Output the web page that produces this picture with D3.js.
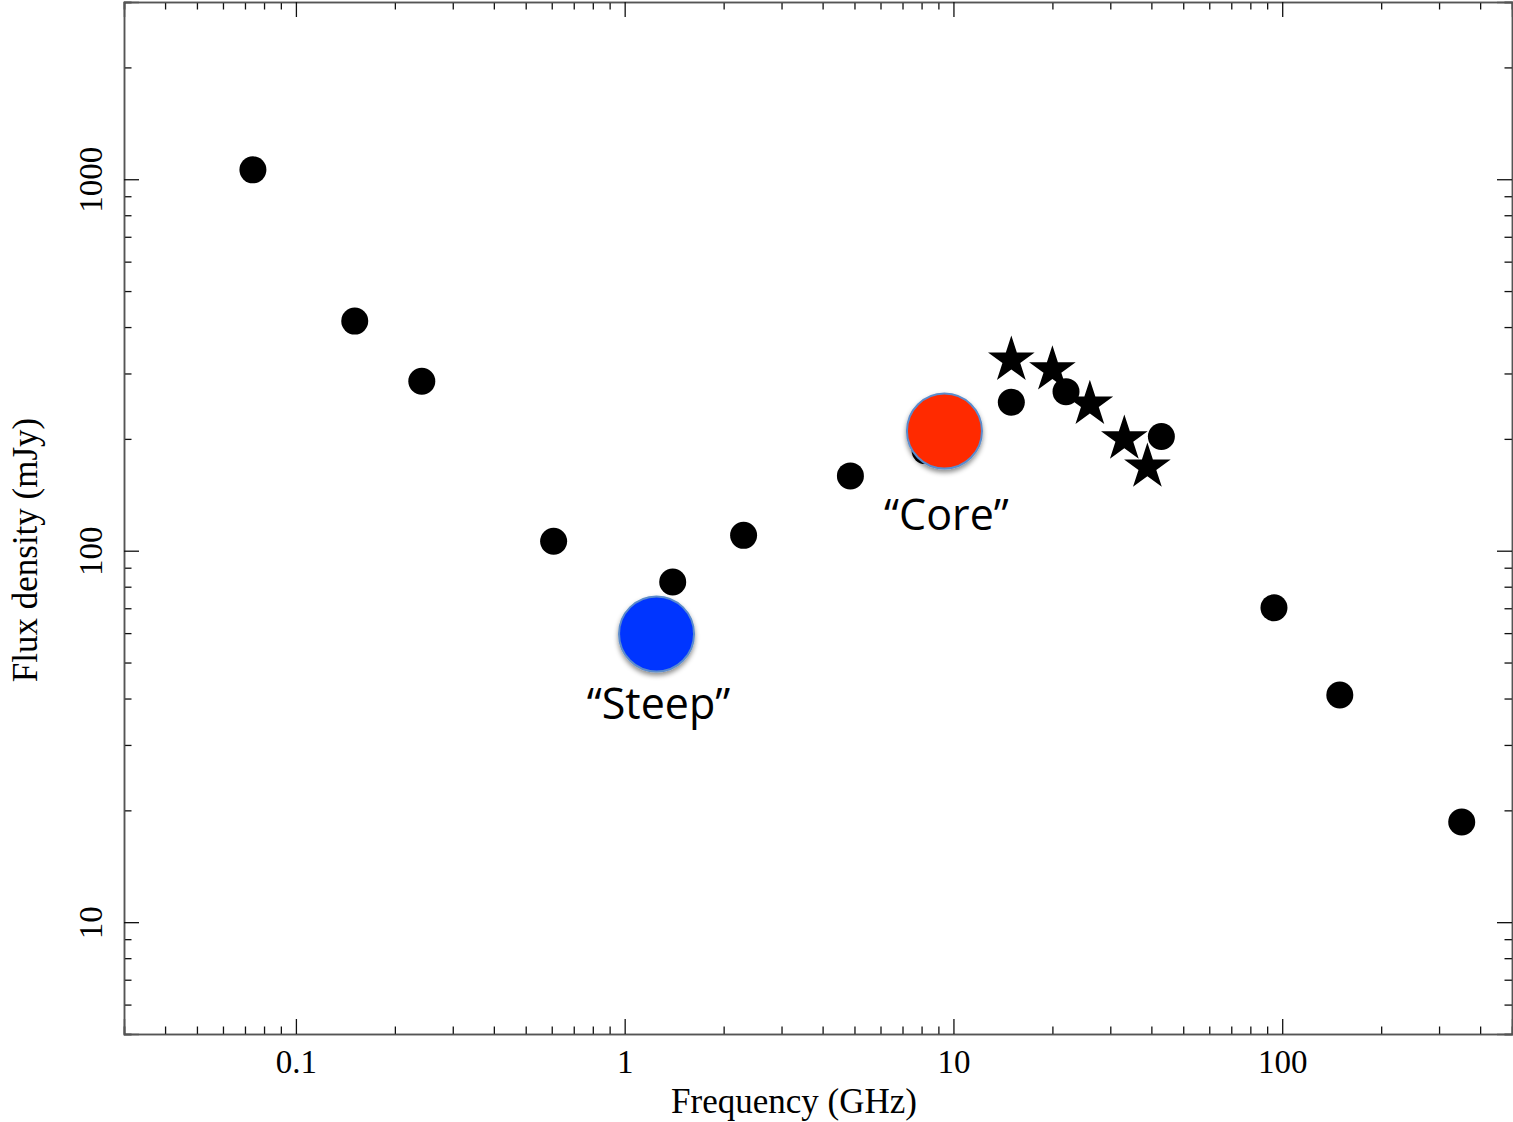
<!DOCTYPE html>
<html>
<head>
<meta charset="utf-8">
<script src="https://cdn.jsdelivr.net/npm/d3@7"></script>
<style>
  body { margin: 0; background: #fff; }
  svg { display: block; }
</style>
</head>
<body>
<div class="svg-container"></div>
<script>
// measured flux densities (black dots)
const freqGHz = [0.074, 0.151, 0.2415, 0.608, 1.40, 2.30, 4.86, 8.2, 15.0, 22.0, 42.9, 94.4, 149.7, 351.6];
const fluxMJy = [1060, 415, 286, 106, 82.4, 110, 159, 186, 251, 268, 203, 70.2, 40.9, 18.6];

// star points
const starFreq = [15.0, 20.0, 26.0, 33.1, 38.9];
const starFlux = [326, 307, 248, 200, 168];

// the two highlighted components
const compNames = ["\u201CCore\u201D", "\u201CSteep\u201D"];
const compFreq = [9.39, 1.25];
const compFlux = [210, 59.7];
const compColors = ["#ff2a00", "#0536ff"];

// axis ticks
const xMajor = [0.1, 1, 10, 100];
const xTickLabels = ["0.1", "1", "10", "100"];
const yMajor = [10, 100, 1000];
const yTickLabels = ["10", "100", "1000"];

const width = 1513;
const height = 1122;
// plot frame edges ("top" is taken by window.top, so prefix them)
const frameLeft = 124, frameRight = 1512, frameTop = 2, frameBottom = 1034;

const x = d3.scaleLog().domain([0.03, 500]).range([frameLeft, frameRight]);
const y = d3.scaleLog().domain([5, 3000]).range([frameBottom, frameTop]);

// minor ticks: 2..9 of every decade, inside the domain
function minorTicks(scale) {
  const [a, b] = scale.domain();
  const out = [];
  for (let e = Math.floor(Math.log10(a)); e <= Math.ceil(Math.log10(b)); e++) {
    for (let m = 2; m <= 9; m++) {
      const v = m * Math.pow(10, e);
      if (v >= a && v <= b) out.push(v);
    }
  }
  return out;
}

const svg = d3
  .select(".svg-container")
  .append("svg")
  .attr("width", width)
  .attr("height", height);

const defs = svg.append("defs");
defs
  .append("filter")
  .attr("id", "shadow")
  .attr("x", "-30%")
  .attr("y", "-30%")
  .attr("width", "160%")
  .attr("height", "160%")
  .append("feDropShadow")
  .attr("dx", 0)
  .attr("dy", 3)
  .attr("stdDeviation", 2.5)
  .attr("flood-color", "#000")
  .attr("flood-opacity", 0.45);

const serif = "'Liberation Serif', 'DejaVu Serif', serif";

// axes, ticks pointing inward on all four sides
function styleAxis(g) {
  g.select(".domain").attr("stroke", "#555").attr("stroke-width", 1.5);
  g.selectAll(".tick line").attr("stroke", "#111").attr("stroke-width", 1.3);
}

const xBottom = svg.append("g").attr("transform", `translate(0,${frameBottom})`);
xBottom.call(d3.axisBottom(x).tickValues(minorTicks(x)).tickSize(-7.5).tickFormat("")).call(styleAxis);
xBottom
  .append("g")
  .call(
    d3.axisBottom(x)
      .tickValues(xMajor)
      .tickSize(-15)
      .tickPadding(16)
      .tickFormat((d, i) => xTickLabels[i])
  )
  .call(styleAxis)
  .call((g) => g.selectAll("text").attr("font-family", serif).attr("font-size", 33).attr("fill", "#000"));

const xTop = svg.append("g").attr("transform", `translate(0,${frameTop})`);
xTop.call(d3.axisTop(x).tickValues(minorTicks(x)).tickSize(-7.5).tickFormat("")).call(styleAxis);
xTop.append("g").call(d3.axisTop(x).tickValues(xMajor).tickSize(-15).tickFormat("")).call(styleAxis);

const yLeft = svg.append("g").attr("transform", `translate(${frameLeft},0)`);
yLeft.call(d3.axisLeft(y).tickValues(minorTicks(y)).tickSize(-7.5).tickFormat("")).call(styleAxis);
yLeft
  .append("g")
  .call(
    d3.axisLeft(y)
      .tickValues(yMajor)
      .tickSize(-15)
      .tickFormat((d, i) => yTickLabels[i])
  )
  .call(styleAxis)
  .call((g) =>
    g.selectAll("text")
      .attr("x", 0)
      .attr("dy", 0)
      .attr("text-anchor", "middle")
      .attr("transform", "translate(-22,0) rotate(-90)")
      .attr("font-family", serif)
      .attr("font-size", 33)
      .attr("fill", "#000")
  );

const yRight = svg.append("g").attr("transform", `translate(${frameRight},0)`);
yRight.call(d3.axisRight(y).tickValues(minorTicks(y)).tickSize(-7.5).tickFormat("")).call(styleAxis);
yRight.append("g").call(d3.axisRight(y).tickValues(yMajor).tickSize(-15).tickFormat("")).call(styleAxis);

// axis titles
svg
  .append("text")
  .attr("x", 794)
  .attr("y", 1113)
  .attr("text-anchor", "middle")
  .attr("font-family", serif)
  .attr("font-size", 35)
  .text("Frequency (GHz)");

svg
  .append("text")
  .attr("transform", "translate(37,550) rotate(-90)")
  .attr("text-anchor", "middle")
  .attr("font-family", serif)
  .attr("font-size", 35)
  .text("Flux density (mJy)");

// black dots
svg
  .append("g")
  .selectAll("circle")
  .data(freqGHz)
  .enter()
  .append("circle")
  .attr("cx", (d) => x(d))
  .attr("cy", (d, i) => y(fluxMJy[i]))
  .attr("r", 13.5)
  .attr("fill", "#000");

// stars
svg
  .append("g")
  .selectAll("path")
  .data(starFreq)
  .enter()
  .append("path")
  .attr("d", d3.symbol(d3.symbolStar, 674))
  .attr("transform", (d, i) => `translate(${x(d)},${y(starFlux[i])})`)
  .attr("fill", "#000");

// highlighted components with labels
const comp = svg
  .append("g")
  .selectAll("g")
  .data(compNames)
  .enter()
  .append("g")
  .attr("transform", (d, i) => `translate(${x(compFreq[i])},${y(compFlux[i])})`);

comp
  .append("circle")
  .attr("r", 37.5)
  .attr("fill", (d, i) => compColors[i])
  .attr("stroke", "#5b8ccc")
  .attr("stroke-width", 2)
  .attr("filter", "url(#shadow)");

comp
  .append("text")
  .attr("x", 2)
  .attr("y", (d, i) => (i === 0 ? 99 : 85))
  .attr("text-anchor", "middle")
  .attr("font-family", "'Open Sans', 'Noto Sans', sans-serif")
  .attr("font-size", 43)
  .attr("fill", "#000")
  .text((d) => d);
</script>
</body>
</html>
